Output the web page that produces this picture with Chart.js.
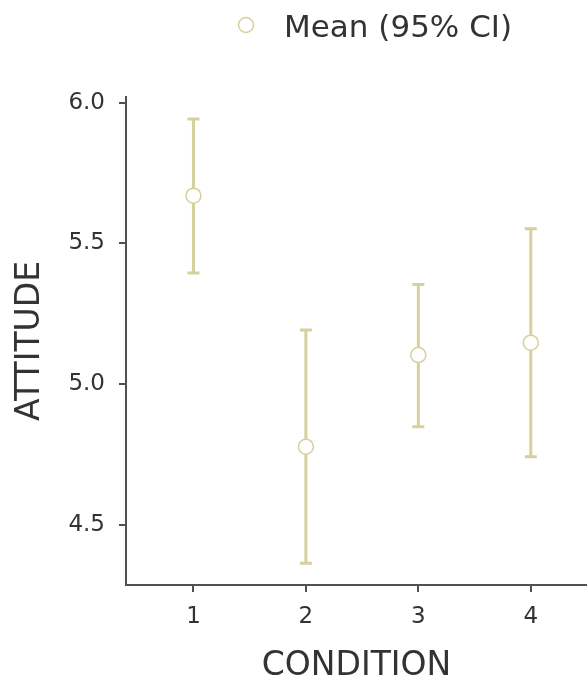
<!DOCTYPE html>
<html>
<head>
<meta charset="utf-8">
<script src="https://cdn.jsdelivr.net/npm/chart.js@4"></script>
<style>
html,body{margin:0;padding:0;background:#fff;}
canvas{display:block;}
</style>
</head>
<body>
<canvas id="c" width="587" height="681"></canvas>
<script>
const categories = [1, 2, 3, 4];
const means = [5.670, 4.777, 5.103, 5.147];
const lower = [5.395, 4.362, 4.848, 4.741];
const upper = [5.943, 5.192, 5.354, 5.552];
const yTicks = [4.5, 5.0, 5.5, 6.0];
const seriesLabel = 'Mean (95% CI)';
const xTitle = 'CONDITION';
const yTitle = 'ATTITUDE';

const KHAKI = '#d5d19d';
const AXIS = '#505050';
const TEXT = '#333333';
const FONT = 'DejaVu Sans';

const errorBars = {
  id: 'errorBars',
  beforeDatasetsDraw(chart) {
    const {ctx, scales: {x, y}} = chart;
    ctx.save();
    ctx.strokeStyle = KHAKI;
    ctx.lineWidth = 3;
    ctx.lineCap = 'butt';
    categories.forEach((c, i) => {
      const px = x.getPixelForValue(c);
      const pLo = y.getPixelForValue(lower[i]);
      const pHi = y.getPixelForValue(upper[i]);
      ctx.beginPath();
      ctx.moveTo(px, pLo); ctx.lineTo(px, pHi);
      ctx.moveTo(px - 6, pLo); ctx.lineTo(px + 6, pLo);
      ctx.moveTo(px - 6, pHi); ctx.lineTo(px + 6, pHi);
      ctx.stroke();
    });
    ctx.restore();
  }
};

const customLegend = {
  id: 'customLegend',
  afterDraw(chart) {
    const {ctx} = chart;
    ctx.save();
    ctx.beginPath();
    ctx.arc(246, 25, 7.5, 0, Math.PI * 2);
    ctx.fillStyle = '#ffffff';
    ctx.fill();
    ctx.lineWidth = 1.5;
    ctx.strokeStyle = KHAKI;
    ctx.stroke();
    ctx.fillStyle = TEXT;
    ctx.font = '31px "' + FONT + '"';
    ctx.textAlign = 'left';
    ctx.textBaseline = 'alphabetic';
    ctx.fillText(seriesLabel, 284, 37);
    ctx.restore();
  }
};

new Chart(document.getElementById('c'), {
  type: 'scatter',
  data: {
    datasets: [{
      label: seriesLabel,
      data: categories.map((c, i) => ({x: c, y: means[i]})),
      pointRadius: 7.5,
      pointHoverRadius: 7.5,
      pointBorderWidth: 1.5,
      backgroundColor: '#ffffff',
      borderColor: KHAKI,
      showLine: false
    }]
  },
  options: {
    responsive: false,
    animation: false,
    events: [],
    layout: {autoPadding: false, padding: {top: 97, left: 0, right: 0, bottom: 0}},
    plugins: {legend: {display: false}, tooltip: {enabled: false}},
    scales: {
      x: {
        type: 'linear',
        min: 0.4,
        max: 4.5,
        afterBuildTicks(s) { s.ticks = categories.map(v => ({value: v})); },
        afterFit(s) { s.height = 96; s.paddingLeft = 0; s.paddingRight = 0; },
        grid: {drawOnChartArea: false, drawTicks: true, tickLength: 7, color: AXIS, lineWidth: 2},
        border: {display: true, color: AXIS, width: 2},
        ticks: {color: TEXT, font: {family: FONT, size: 23}, padding: 11, callback: v => String(v), maxRotation: 0},
        title: {display: true, text: xTitle, color: TEXT, font: {family: FONT, size: 33, lineHeight: 0.8}, padding: {top: 0, bottom: 1}}
      },
      y: {
        type: 'linear',
        min: 4.285,
        max: 6.021,
        afterBuildTicks(s) { s.ticks = yTicks.map(v => ({value: v})); },
        afterFit(s) { s.width = 126; s.paddingTop = 0; s.paddingBottom = 0; },
        grid: {drawOnChartArea: false, drawTicks: true, tickLength: 7, color: AXIS, lineWidth: 2},
        border: {display: true, color: AXIS, width: 2},
        ticks: {color: TEXT, font: {family: FONT, size: 23}, padding: 14, callback: v => Number(v).toFixed(1)},
        title: {display: true, text: yTitle, color: TEXT, font: {family: FONT, size: 33}, padding: {top: 11, bottom: 0}}
      }
    }
  },
  plugins: [errorBars, customLegend]
});
</script>
</body>
</html>
